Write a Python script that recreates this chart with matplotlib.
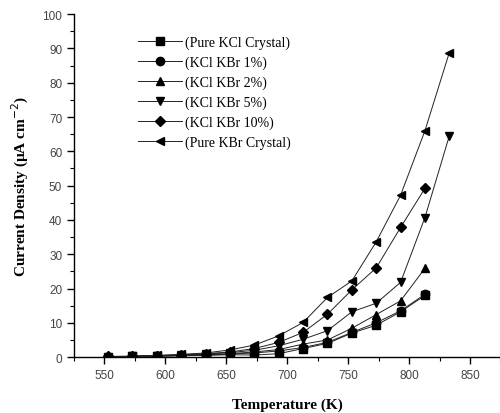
import matplotlib
matplotlib.use("Agg")
import matplotlib.pyplot as plt
from matplotlib.ticker import MultipleLocator

temps_a = [553, 573, 593, 613, 633, 653, 673, 693, 713, 733, 753, 773, 793, 813]
temps_b = [573, 593, 613, 633, 653, 673, 693, 713, 733, 753, 773, 793, 813, 833]

kcl_pure = [0.1, 0.2, 0.3, 0.4, 0.5, 0.7, 0.6, 1.0, 2.5, 4.0, 7.0, 9.3, 13.2, 18.0]
kbr_1 = [0.1, 0.2, 0.3, 0.4, 0.6, 0.9, 1.2, 1.8, 2.8, 4.3, 7.2, 10.0, 13.5, 18.3]
kbr_2 = [0.1, 0.2, 0.3, 0.5, 0.7, 1.0, 1.5, 2.2, 3.8, 5.0, 8.4, 12.4, 16.4, 25.9]
kbr_5 = [0.3, 0.4, 0.6, 0.9, 1.3, 2.0, 3.3, 5.2, 7.7, 13.2, 15.7, 21.8, 40.7, 64.5]
kbr_10 = [0.2, 0.3, 0.4, 0.7, 1.0, 1.5, 2.5, 4.3, 7.2, 12.5, 19.6, 26.0, 37.8, 49.2]
kbr_pure = [0.3, 0.5, 0.8, 1.2, 2.1, 3.5, 6.2, 10.1, 17.4, 22.2, 33.6, 47.2, 66.0, 88.8]

labels = ["(Pure KCl Crystal)", "(KCl KBr 1%)", "(KCl KBr 2%)",
          "(KCl KBr 5%)", "(KCl KBr 10%)", "(Pure KBr Crystal)"]

fig = plt.figure(figsize=(5.0, 4.14), dpi=100)
ax = fig.add_axes([0.148, 0.135, 0.853, 0.8285])

series = [
    (temps_a, kcl_pure, "s"),
    (temps_a, kbr_1, "o"),
    (temps_a, kbr_2, "^"),
    (temps_b, kbr_5, "v"),
    (temps_a, kbr_10, "D"),
    (temps_b, kbr_pure, "<"),
]
for (x, y, m), lab in zip(series, labels):
    ms = 5 if m == "D" else 6
    ax.plot(x, y, color="#222222", lw=0.7, marker=m, ms=ms, mfc="black",
            mec="black", label=lab)

ax.set_xlim(525, 875)
ax.set_ylim(0, 100)
ax.xaxis.set_major_locator(MultipleLocator(50))
ax.xaxis.set_minor_locator(MultipleLocator(25))
ax.yaxis.set_major_locator(MultipleLocator(10))
ax.yaxis.set_minor_locator(MultipleLocator(5))
for s in ["top", "right"]:
    ax.spines[s].set_visible(False)
ax.spines["left"].set_linewidth(1.0)
ax.spines["bottom"].set_linewidth(1.0)
ax.tick_params(which="major", direction="out", length=5, width=1,
               labelsize=8.5, labelcolor="#444444")
ax.tick_params(which="minor", direction="out", length=3, width=0.8)
for t in ax.get_xticklabels() + ax.get_yticklabels():
    t.set_family("Liberation Sans")

ax.set_xlabel("Temperature (K)", fontfamily="Liberation Serif",
              fontweight="bold", fontsize=11, labelpad=12)
ax.set_ylabel("Current Density (\u00b5A cm$^{-2}$)", fontfamily="Liberation Serif",
              fontweight="bold", fontsize=11, labelpad=8)

leg = ax.legend(loc="upper left", bbox_to_anchor=(0.137, 0.955), frameon=False,
                prop={"family": "Liberation Serif", "size": 10},
                handlelength=3.2, handletextpad=0.2, labelspacing=0.47,
                borderaxespad=0)

fig.savefig("out.png", dpi=100)
